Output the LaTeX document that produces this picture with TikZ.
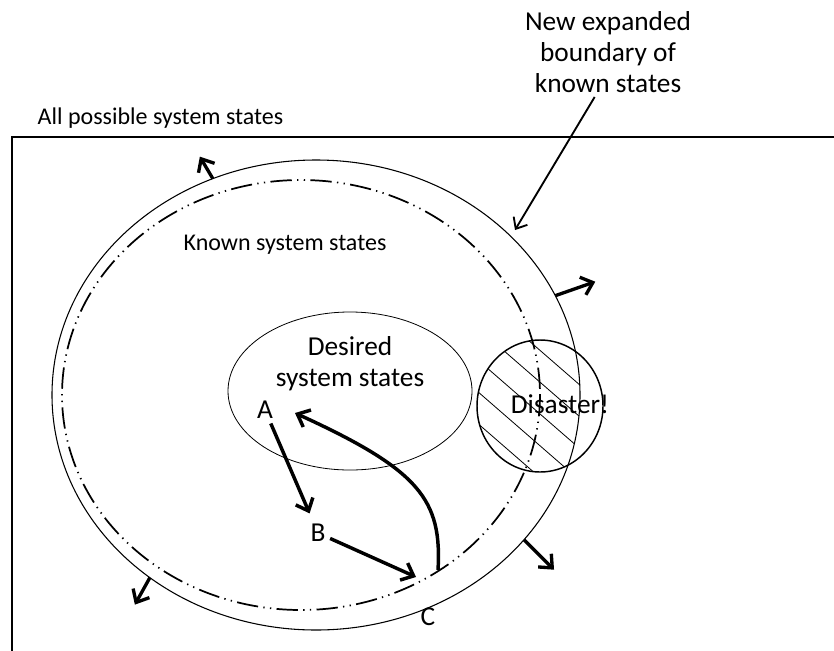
\documentclass[tikz,border=0pt]{standalone}
\usepackage{fontspec}
\setmainfont{Carlito}
\usetikzlibrary{arrows.meta}

\begin{document}
\begin{tikzpicture}[x=0.75pt,y=-0.75pt,
    lbl/.style={font=\fontsize{18}{22}\selectfont},
    biglbl/.style={font=\fontsize{20.5}{23}\selectfont, align=center},
    traj/.style={line width=2.6pt, -{Straight Barb[length=8pt,width=14pt]}},
    outward/.style={line width=2.5pt, -{Straight Barb[length=8pt,width=14pt]}},
    pointer/.style={line width=1.4pt, -{Straight Barb[length=7pt,width=12pt]}},
    hatch/.style={line width=0.6pt},
    dashdot/.style={line width=1.3pt, dash pattern=on 16pt off 4pt on 1pt off 4pt on 1pt off 4pt}]
  \useasboundingbox (0,0) rectangle (834,650);
  \clip (0,0) rectangle (834,650);

  % state space
  \draw[line width=1.5pt] (12,137) rectangle (834.5,700);
  \node[lbl, anchor=west] (allst) at (33,118) {All possible system states};

  % known states: old (dash-dot) and expanded (solid) boundary
  \coordinate (ctr) at (316,395);
  \draw[line width=0.8pt] (ctr) ellipse [x radius=264, y radius=235];
  \draw[dashdot] (301,395) ellipse [x radius=239, y radius=215];
  \node[lbl] (known) at (285,245) {Known system states};

  % desired states
  \draw[line width=0.6pt] (350,391) ellipse [x radius=122, y radius=79];
  \node[biglbl] (desired) at (350,364) {Desired\\system states};

  % disaster, hatched where it lies inside the known states
  \coordinate (dis) at (540,406);
  \begin{scope}
    \clip (ctr) ellipse [x radius=264, y radius=235];
    \clip (dis) ellipse [x radius=63, y radius=66];
    \foreach \k in {-5,...,5}
      \draw[hatch] (dis) ++(131:\k*24+6) ++(221:120) -- ++(41:240);
  \end{scope}
  \draw[line width=1.1pt] (dis) ellipse [x radius=63, y radius=66];
  \node[biglbl] (disaster) at (560,404) {Disaster!};

  % boundary grows outwards
  \foreach \t/\dx/\dy in {247/-13/-22, 335/40/-14, 38/30/30, 129/-15/27}
    \draw[outward] (ctr) ++(\t:264 and 235) -- ++(\dx,\dy);

  \node[biglbl] (newlbl) at (608,52) {New expanded\\boundary of\\known states};
  \coordinate (edge) at (515,230);
  \draw[pointer] ([xshift=-10]newlbl.south) -- (edge);

  % trajectory A -> B -> C and back
  \node[biglbl] (A) at (265,410) {A};
  \node[biglbl] (B) at (318,533) {B};
  \node[biglbl] (C) at (428,617) {C};
  \coordinate (hit) at (416,577);
  \coordinate (back) at (438,570);
  \coordinate (ret) at (295,413);
  \draw[traj, shorten >=5pt] (A) -- (B);
  \draw[traj] (B) -- (hit);
  \draw[traj] (back) .. controls (442,500) and (420,470) .. (ret);
\end{tikzpicture}
\end{document}
